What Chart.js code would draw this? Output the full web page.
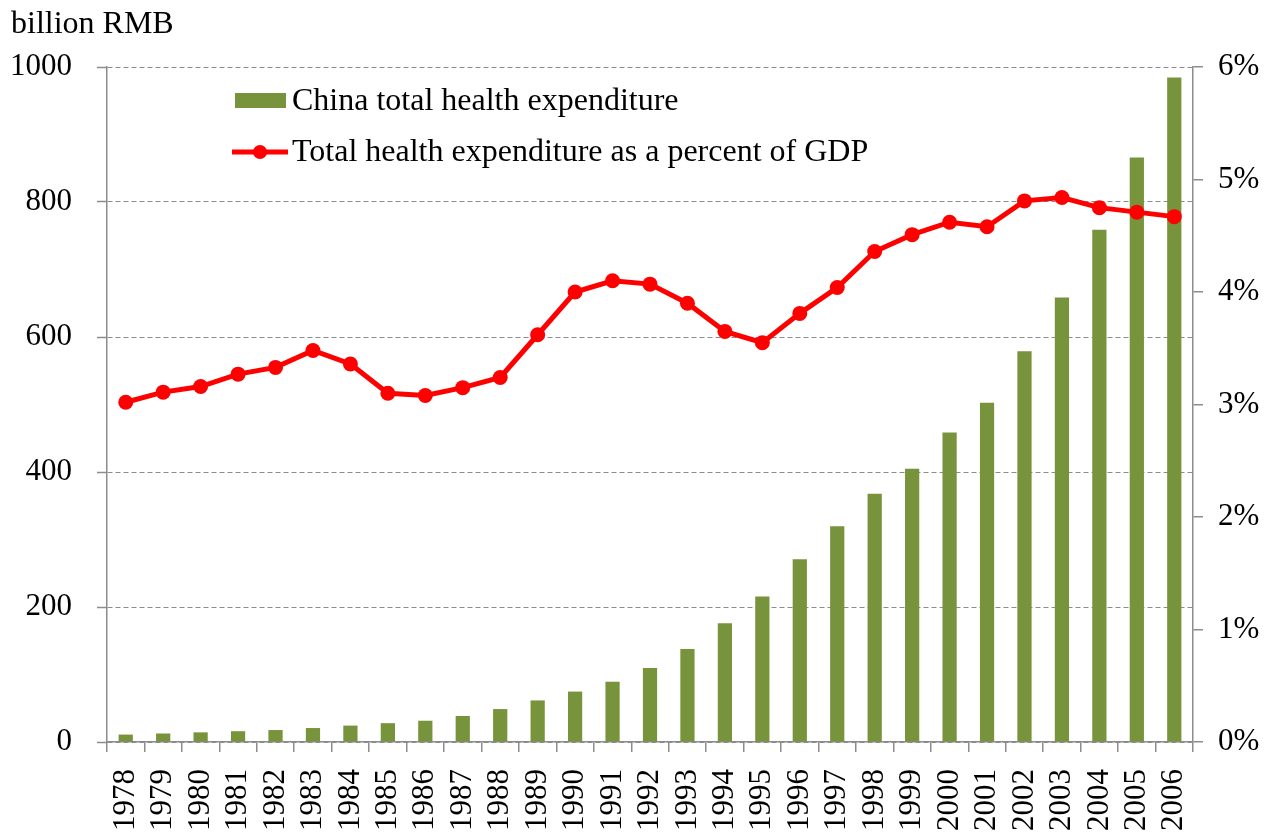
<!DOCTYPE html>
<html>
<head>
<meta charset="utf-8">
<title>China total health expenditure, 1978–2006</title>
<script src="https://cdn.jsdelivr.net/npm/chart.js@4/dist/chart.umd.min.js"></script>
<style>
  html, body { margin: 0; padding: 0; background: #ffffff; }
  #wrap { width: 1273px; height: 837px; }
</style>
</head>
<body>
<div id="wrap"><canvas id="chart" width="1273" height="837"></canvas></div>
<script>
// Years on the category axis
const years = ['1978','1979','1980','1981','1982','1983','1984','1985','1986','1987',
  '1988','1989','1990','1991','1992','1993','1994','1995','1996','1997',
  '1998','1999','2000','2001','2002','2003','2004','2005','2006'];

// Total health expenditure, billion RMB
const totalSpending = [11.0, 12.6, 14.3, 16.0, 17.7, 20.7, 24.3, 27.9, 31.5, 38.5,
  48.8, 61.6, 74.7, 89.3, 109.7, 137.8, 176.1, 215.5, 270.9, 319.7,
  367.9, 404.8, 458.7, 502.6, 579.0, 658.4, 759.0, 866.0, 984.3];

// Total health expenditure as a share of GDP, percent
const shareOfGdp = [3.02, 3.11, 3.16, 3.27, 3.33, 3.48, 3.36, 3.10, 3.08, 3.15,
  3.24, 3.62, 4.00, 4.10, 4.07, 3.90, 3.65, 3.55, 3.81, 4.04,
  4.36, 4.51, 4.62, 4.58, 4.81, 4.84, 4.75, 4.71, 4.67];

// Axis settings
const leftTicks = { min: 0, max: 1000, step: 200 };
const rightTicks = { min: 0, max: 6, step: 1 };
const unitLabel = 'billion RMB';
const seriesNames = ['China total health expenditure', 'Total health expenditure as a percent of GDP'];

const SERIF = "'Liberation Serif', 'Times New Roman', serif";
const GREEN = '#77933c';
const RED = '#ff0000';
const AXIS_GREY = '#8c8c8c';

Chart.defaults.font.family = SERIF;
Chart.defaults.color = '#000000';

// Unit caption above the left axis and the in-plot legend
const annotations = {
  id: 'annotations',
  afterDraw(chart) {
    const ctx = chart.ctx;
    const area = chart.chartArea;
    ctx.save();
    ctx.fillStyle = '#000000';
    ctx.font = '32px ' + SERIF;
    ctx.textAlign = 'left';
    ctx.textBaseline = 'alphabetic';
    ctx.fillText(unitLabel, 11, 33);

    // legend entries
    const lx = area.left + 128;
    const bar = chart.data.datasets[0];
    const line = chart.data.datasets[1];
    const y1 = 101, y2 = 152;

    ctx.fillStyle = bar.backgroundColor;
    ctx.fillRect(lx, y1 - 8, 51, 15);

    ctx.strokeStyle = line.borderColor;
    ctx.lineWidth = 5;
    ctx.beginPath();
    ctx.moveTo(lx - 3, y2);
    ctx.lineTo(lx + 53, y2);
    ctx.stroke();
    ctx.fillStyle = line.pointBackgroundColor;
    ctx.beginPath();
    ctx.arc(lx + 25, y2, 7, 0, Math.PI * 2);
    ctx.fill();

    ctx.fillStyle = '#000000';
    ctx.textBaseline = 'middle';
    ctx.fillText(bar.label, lx + 57, y1 + 1);
    ctx.fillText(line.label, lx + 57, y2 + 1);
    ctx.restore();
  }
};

new Chart(document.getElementById('chart'), {
  type: 'bar',
  data: {
    labels: years,
    datasets: [
      {
        type: 'bar',
        label: seriesNames[0],
        data: totalSpending,
        backgroundColor: GREEN,
        borderWidth: 0,
        categoryPercentage: 1.0,
        barPercentage: 0.38,
        yAxisID: 'y',
        order: 2
      },
      {
        type: 'line',
        label: seriesNames[1],
        data: shareOfGdp,
        borderColor: RED,
        backgroundColor: RED,
        pointBackgroundColor: RED,
        pointBorderWidth: 0,
        pointRadius: 7.5,
        borderWidth: 5,
        tension: 0,
        fill: false,
        yAxisID: 'y1',
        order: 1
      }
    ]
  },
  options: {
    responsive: false,
    animation: false,
    layout: { padding: { top: 67, left: 0, right: 0, bottom: 0 } },
    plugins: {
      legend: { display: false },
      tooltip: { enabled: false },
      title: { display: false }
    },
    scales: {
      x: {
        type: 'category',
        afterFit(scale) { scale.height = 95; },
        border: { display: true, color: AXIS_GREY, width: 1.5 },
        grid: {
          display: true,
          offset: true,
          drawOnChartArea: false,
          drawTicks: true,
          tickLength: 10,
          color: AXIS_GREY,
          lineWidth: 1.5
        },
        ticks: {
          autoSkip: false,
          maxRotation: 90,
          minRotation: 90,
          padding: 17,
          font: { size: 31 },
          color: '#000000'
        }
      },
      y: {
        position: 'left',
        min: leftTicks.min,
        max: leftTicks.max,
        afterFit(scale) { scale.width = 107; },
        border: { display: true, color: AXIS_GREY, width: 1.5, dash: [5, 3] },
        grid: {
          display: true,
          drawOnChartArea: true,
          drawTicks: true,
          tickLength: 10,
          color: AXIS_GREY,
          lineWidth: 1,
          tickColor: AXIS_GREY,
          tickWidth: 1.5,
          tickBorderDash: []
        },
        ticks: {
          stepSize: leftTicks.step,
          padding: 25,
          font: { size: 31 },
          color: '#000000',
          callback: (v) => String(v)
        }
      },
      y1: {
        position: 'right',
        min: rightTicks.min,
        max: rightTicks.max,
        afterFit(scale) { scale.width = 80; },
        border: { display: true, color: AXIS_GREY, width: 1.5 },
        grid: {
          display: true,
          drawOnChartArea: false,
          drawTicks: true,
          tickLength: 10,
          color: AXIS_GREY,
          lineWidth: 1.5
        },
        ticks: {
          stepSize: rightTicks.step,
          padding: 15,
          font: { size: 31 },
          color: '#000000',
          callback: (v) => v + '%'
        }
      }
    }
  },
  plugins: [annotations]
});
</script>
</body>
</html>
